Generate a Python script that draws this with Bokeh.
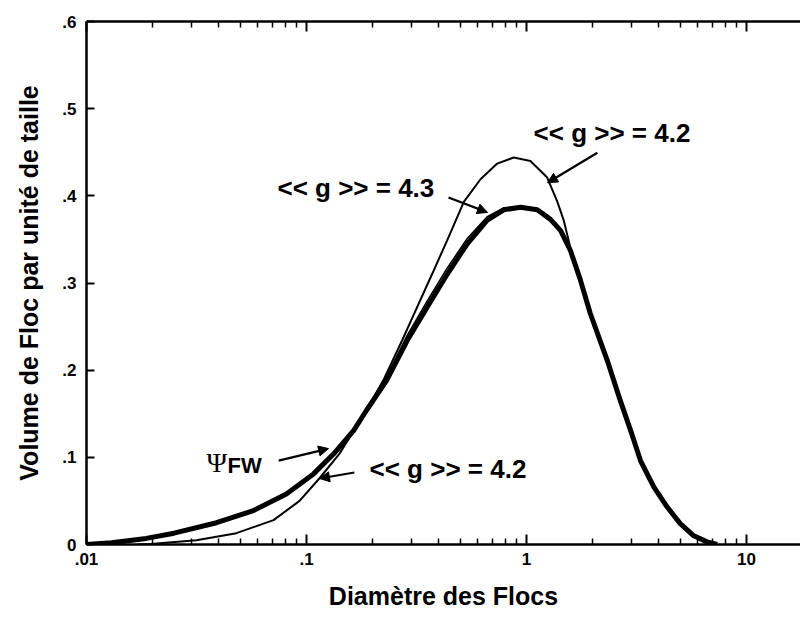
from bokeh.plotting import figure
from bokeh.models import (FixedTicker, CustomJSTickFormatter, LogAxis, Arrow,
                          NormalHead, Label, Range1d)
from bokeh.embed import file_html
from bokeh.resources import INLINE

# ---------------- data ----------------
psi_x = [0.01, 0.013, 0.0187, 0.025, 0.039, 0.0574, 0.081, 0.1076, 0.133, 0.164,
         0.1875, 0.231, 0.287, 0.353, 0.436, 0.538, 0.663, 0.788, 0.94, 1.12,
         1.285, 1.43, 1.585, 1.75, 1.95, 2.33, 2.67, 3.0, 3.3, 3.79, 4.36, 5.0,
         5.76, 6.62, 7.35]
psi_y = [0.0, 0.002, 0.007, 0.013, 0.025, 0.039, 0.058, 0.081, 0.104, 0.131,
         0.154, 0.188, 0.234, 0.272, 0.310, 0.345, 0.372, 0.384, 0.387, 0.384,
         0.373, 0.360, 0.337, 0.305, 0.265, 0.211, 0.165, 0.128, 0.096, 0.066,
         0.043, 0.024, 0.010, 0.003, 0.0]

g42_x = [0.017, 0.0202, 0.0316, 0.048, 0.0708, 0.093, 0.1146, 0.141, 0.1815,
         0.225, 0.272, 0.318, 0.372, 0.436, 0.519, 0.618, 0.736, 0.875, 1.042,
         1.242, 1.378, 1.476, 1.585, 1.75, 1.95, 2.33, 2.67, 3.0, 3.3, 3.79,
         4.36, 5.0, 5.76, 6.62, 7.35]
g42_y = [0.0, 0.001, 0.005, 0.013, 0.028, 0.050, 0.076, 0.104, 0.148,
         0.190, 0.234, 0.272, 0.310, 0.349, 0.393, 0.419, 0.437, 0.444, 0.440,
         0.421, 0.394, 0.372, 0.340, 0.305, 0.265, 0.211, 0.165, 0.128, 0.096,
         0.066, 0.043, 0.024, 0.010, 0.003, 0.0]

g43_x = [0.01, 0.013, 0.0187, 0.025, 0.039, 0.0574, 0.081, 0.1076, 0.133, 0.164,
         0.1875, 0.231, 0.287, 0.353, 0.436, 0.538, 0.663, 0.788, 0.94, 1.12,
         1.285, 1.43, 1.585, 1.75, 1.95, 2.33, 2.67, 3.0, 3.3, 3.79, 4.36, 5.0,
         5.76, 6.62, 7.35]
g43_y = [0.0, 0.002, 0.007, 0.013, 0.025, 0.039, 0.058, 0.081, 0.104, 0.131,
         0.155, 0.192, 0.240, 0.279, 0.317, 0.351, 0.376, 0.386, 0.387, 0.384,
         0.373, 0.360, 0.337, 0.305, 0.265, 0.211, 0.165, 0.128, 0.096, 0.066,
         0.043, 0.024, 0.010, 0.003, 0.0]

x_ticks = [0.01, 0.1, 1, 10]
y_ticks = [0, 0.1, 0.2, 0.3, 0.4, 0.5, 0.6]

x_label = "Diamètre des Flocs"
y_label = "Volume de Floc par unité de taille"

# annotations: text, x, y
ann_texts = ["<< g >> = 4.2", "<< g >> = 4.3", "<< g >> = 4.2"]
ann_x = [1.077, 0.0738, 0.1934]
ann_y = [0.4725, 0.4094, 0.087]
# arrows: start (x, y) -> end (x, y)
arr_x0 = [2.10, 0.442, 0.0747, 0.165]
arr_y0 = [0.4495, 0.398, 0.0963, 0.0826]
arr_x1 = [1.246, 0.665, 0.126, 0.1146]
arr_y1 = [0.415, 0.381, 0.110, 0.0757]
psi_label_x = 0.0351
psi_label_y = 0.094

FONT = "Liberation Sans"

p = figure(width=800, height=617, x_axis_type="log", title=None,
           x_range=Range1d(0.01, 17.6), y_range=Range1d(0, 0.6),
           output_backend="svg", toolbar_location=None,
           min_border_left=86, min_border_right=0, min_border_top=21,
           min_border_bottom=73)
p.outline_line_color = None
p.xgrid.visible = False
p.ygrid.visible = False
p.background_fill_color = "white"
p.border_fill_color = "white"

minor_x = [m * d for d in [0.01, 0.1, 1, 10] for m in range(2, 10)]
fmt_code = "return String(tick).replace(/^0[.]/, '.');"

xa = p.xaxis[0]
xa.ticker = FixedTicker(ticks=x_ticks, minor_ticks=minor_x)
xa.formatter = CustomJSTickFormatter(code=fmt_code)
ya = p.yaxis[0]
ya.ticker = FixedTicker(ticks=y_ticks)
ya.formatter = CustomJSTickFormatter(code=fmt_code)

top = LogAxis(ticker=FixedTicker(ticks=x_ticks, minor_ticks=minor_x),
              major_label_text_font_size="8px", major_label_text_alpha=0,
              major_label_standoff=0)
p.add_layout(top, "above")

for ax in [xa, ya, top]:
    ax.axis_line_width = 2.5
    ax.axis_line_color = "black"
    ax.major_tick_line_width = 2
    ax.minor_tick_line_width = 1.5
    ax.major_tick_line_color = "black"
    ax.minor_tick_line_color = "black"
    ax.major_tick_out = 0
    ax.minor_tick_out = 0
    ax.major_label_text_font = FONT
    ax.major_label_text_font_style = "bold"
    ax.axis_label_text_font = FONT
    ax.axis_label_text_font_style = "bold"
    ax.axis_label_text_color = "black"

xa.major_label_text_color = "black"
ya.major_label_text_color = "black"

xa.major_tick_in = 10
xa.minor_tick_in = 6
top.major_tick_in = 10
top.minor_tick_in = 6
ya.major_tick_in = 8
ya.minor_tick_in = 0

xa.major_label_text_font_size = "17px"
ya.major_label_text_font_size = "17px"
xa.major_label_standoff = 8
ya.major_label_standoff = 10
xa.axis_label = x_label
ya.axis_label = y_label
xa.axis_label_text_font_size = "25px"
ya.axis_label_text_font_size = "25px"
xa.axis_label_standoff = 14
ya.axis_label_standoff = 16

# curves
p.line(g42_x, g42_y, line_color="black", line_width=2)
p.line(g43_x, g43_y, line_color="black", line_width=1.6)
p.line(psi_x, psi_y, line_color="black", line_width=5)

# arrows
for x0, y0, x1, y1 in zip(arr_x0, arr_y0, arr_x1, arr_y1):
    p.add_layout(Arrow(x_start=x0, y_start=y0, x_end=x1, y_end=y1,
                       line_width=2.2, line_color="black",
                       end=NormalHead(size=10, fill_color="black",
                                      line_color="black", line_width=1)))

for t, x, y in zip(ann_texts, ann_x, ann_y):
    p.add_layout(Label(x=x, y=y, text=t, text_font=FONT,
                       text_font_style="bold", text_font_size="26px",
                       text_baseline="middle", text_align="left",
                       text_color="black"))

p.add_layout(Label(x=psi_label_x, y=psi_label_y, text="Ψ",
                   text_font="Liberation Serif", text_font_size="28px",
                   text_baseline="middle", text_align="left",
                   text_color="black"))
p.add_layout(Label(x=psi_label_x, y=psi_label_y, x_offset=21, y_offset=-3,
                   text="FW", text_font=FONT, text_font_style="bold",
                   text_font_size="22px", text_baseline="middle",
                   text_align="left", text_color="black"))

open("out.html", "w").write(file_html(p, INLINE))
